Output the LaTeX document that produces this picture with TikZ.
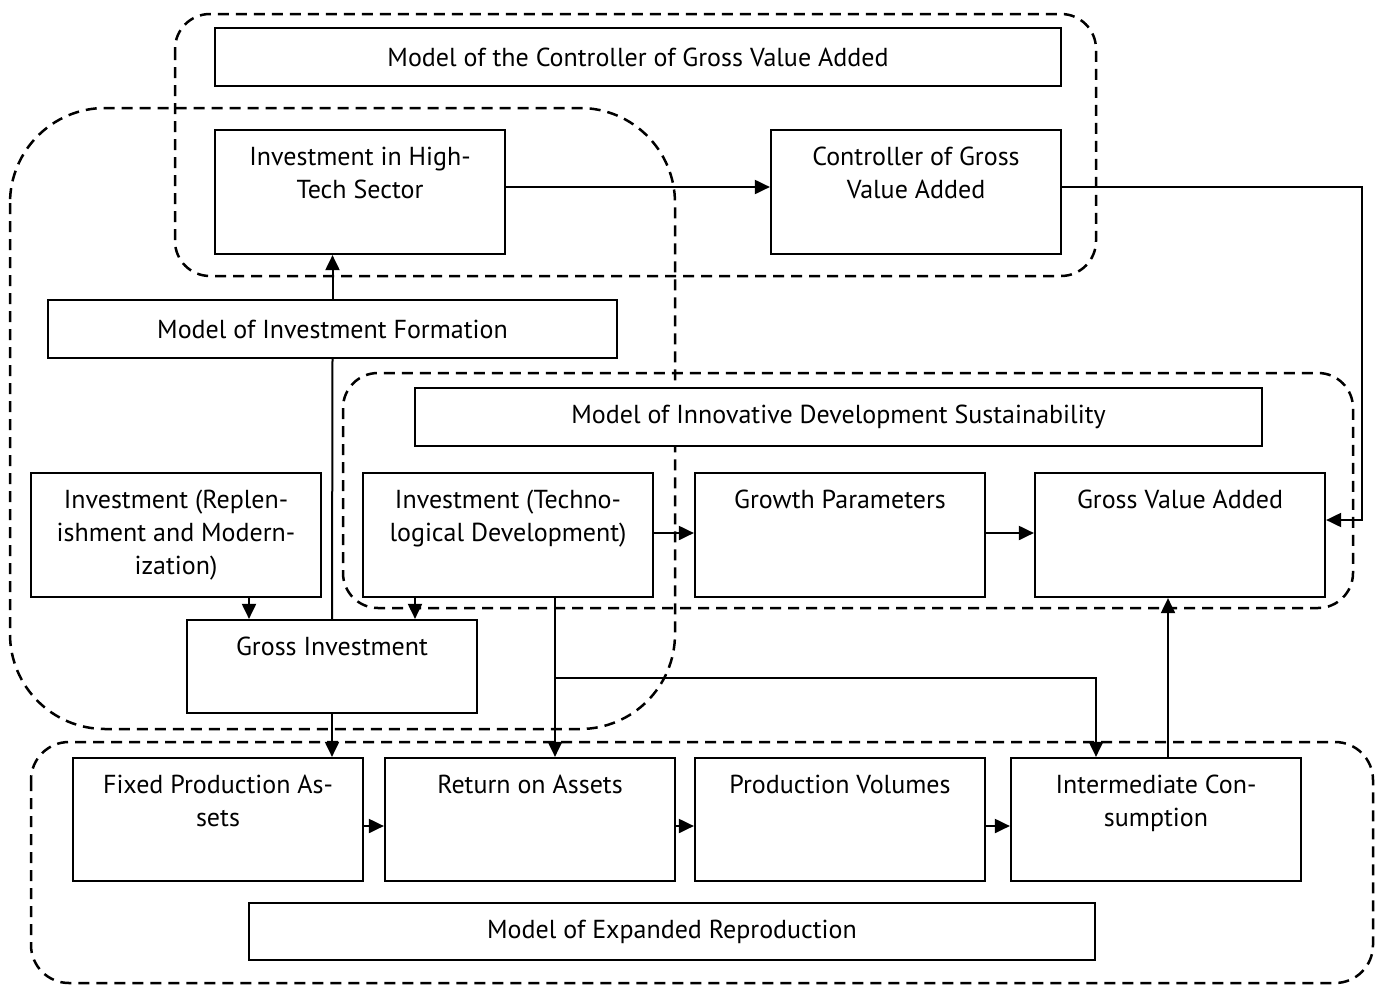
\documentclass[tikz,border=0pt]{standalone}
\usepackage{fontspec}
\setmainfont{PT Sans}
\usetikzlibrary{arrows.meta,fit,calc}
\begin{document}
\begin{tikzpicture}[x=1pt,y=-1pt,
  box/.style={draw, line width=2.2pt, inner sep=0pt, fill=white},
  txt/.style={font=\fontsize{26}{33}\selectfont, align=center, inner sep=0pt, anchor=north},
  ttl/.style={font=\fontsize{26}{33}\selectfont, align=center, inner sep=0pt, anchor=center},
  grp/.style={draw, line width=2.5pt, dash pattern=on 11pt off 7pt},
  con/.style={line width=2pt},
  arr/.style={con, -{Triangle[length=15pt,width=14pt]}}]
\useasboundingbox (0,0) rectangle (1381,985);
% group frames
\draw[grp, rounded corners=35pt] (175,14) rectangle (1096,276);
\draw[grp, rounded corners=95pt] (10,108) rectangle (675,729);
\draw[grp, rounded corners=35pt] (343,373) rectangle (1353,608);
\draw[grp, rounded corners=38pt] (31,742) rectangle (1373,983);
% boxes
\node[box, fit={(215,28) (1061,86)}] (mcg) {};
\node[ttl] (mcgt) at (mcg.center) {Model of the Controller of Gross Value Added};
\node[box, fit={(215,130) (505,254)}] (ht) {};
\node[txt] (htt) at ([yshift=-18pt]ht.north) {Investment in High-\\Tech Sector};
\node[box, fit={(771,130) (1061,254)}] (cg) {};
\node[txt] (cgt) at ([yshift=-18pt]cg.north) {Controller of Gross\\Value Added};
\node[box, fit={(48,300) (617,358)}] (mif) {};
\node[ttl] (mift) at (mif.center) {Model of Investment Formation};
\node[box, fit={(415,388) (1262,446)}] (mids) {};
\node[ttl] (midst) at (mids.center) {Model of Innovative Development Sustainability};
\node[box, fit={(31,473) (321,597)}] (ir) {};
\node[txt] (irt) at ([yshift=-18pt]ir.north) {Investment (Replen-\\ishment and Modern-\\ization)};
\node[box, fit={(363,473) (653,597)}] (itd) {};
\node[txt] (itdt) at ([yshift=-18pt]itd.north) {Investment (Techno-\\logical Development)};
\node[box, fit={(695,473) (985,597)}] (gp) {};
\node[txt] (gpt) at ([yshift=-18pt]gp.north) {Growth Parameters};
\node[box, fit={(1035,473) (1325,597)}] (gva) {};
\node[txt] (gvat) at ([yshift=-18pt]gva.north) {Gross Value Added};
\node[box, fit={(187,620) (477,713)}] (gi) {};
\node[txt] (git) at ([yshift=-18pt]gi.north) {Gross Investment};
\node[box, fit={(73,758) (363,881)}] (fpa) {};
\node[txt] (fpat) at ([yshift=-18pt]fpa.north) {Fixed Production As-\\sets};
\node[box, fit={(385,758) (675,881)}] (roa) {};
\node[txt] (roat) at ([yshift=-18pt]roa.north) {Return on Assets};
\node[box, fit={(695,758) (985,881)}] (pv) {};
\node[txt] (pvt) at ([yshift=-18pt]pv.north) {Production Volumes};
\node[box, fit={(1011,758) (1301,881)}] (ic) {};
\node[txt] (ict) at ([yshift=-18pt]ic.north) {Intermediate Con-\\sumption};
\node[box, fit={(249,903) (1095,960)}] (mer) {};
\node[ttl] (mert) at (mer.center) {Model of Expanded Reproduction};
% helper coordinates
\coordinate (r1) at (0,187);
\coordinate (r2) at (0,520);
\coordinate (r3) at (0,533);
\coordinate (r4) at (0,678);
\coordinate (r5) at (0,826);
\coordinate (c1) at (1362,0);
\coordinate (c2) at (1096,0);
\coordinate (c3) at (249,0);
\coordinate (c4) at (415,0);
\coordinate (c5) at (555,0);
\coordinate (c6) at (1168,0);
% connectors
\draw[con] (gi.north) -- (mif.south);
\draw[arr] (mif.north) -- (mif.north |- ht.south);
\draw[arr] (ht.east |- r1) -- (cg.west |- r1);
\draw[arr] (cg.east |- r1) -| (c1 |- r2) -- (gva.east |- r2);
\draw[arr] (c3 |- ir.south) -- (c3 |- gi.north);
\draw[arr] (c4 |- itd.south) -- (c4 |- gi.north);
\draw[arr] (itd.east |- r3) -- (gp.west |- r3);
\draw[arr] (gp.east |- r3) -- (gva.west |- r3);
\draw[arr] (c5 |- itd.south) -- (c5 |- roa.north);
\draw[arr] (c5 |- r4) -| (c2 |- ic.north);
\draw[arr] (gi.south) -- (gi.south |- fpa.north);
\draw[arr] (fpa.east |- r5) -- (roa.west |- r5);
\draw[arr] (roa.east |- r5) -- (pv.west |- r5);
\draw[arr] (pv.east |- r5) -- (ic.west |- r5);
\draw[arr] (c6 |- ic.north) -- (c6 |- gva.south);
\end{tikzpicture}
\end{document}
